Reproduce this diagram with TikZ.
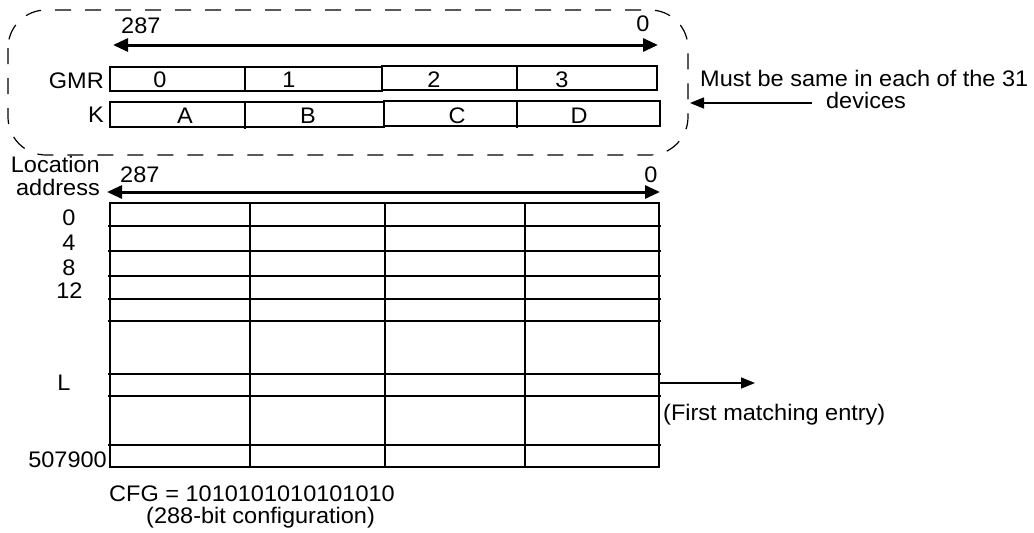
\documentclass[tikz,border=0pt]{standalone}
\usepackage{fontspec}
\setmainfont{Liberation Sans}
\usetikzlibrary{arrows.meta}
\newcommand{\tx}[1]{\scalebox{1.045}[1]{#1}}
\begin{document}
\begin{tikzpicture}[x=1pt,y=-1pt,
  lbl/.style={font=\fontsize{22.5}{27}\selectfont, inner sep=0pt},
  bigarrow/.style={line width=3pt, {Triangle[length=15pt,width=13pt]}-{Triangle[length=15pt,width=13pt]}},
  smallarrow/.style={line width=1.5pt, -{Triangle[length=14pt,width=11pt]}},
  gridline/.style={line width=2.8pt},
  innerline/.style={line width=2pt},
  boxline/.style={line width=1.8pt},
  dashbox/.style={line width=1.2pt, dash pattern=on 16pt off 14pt, rounded corners=38pt}]
\useasboundingbox (0,0) rectangle (1034,533);

% dashed group
\draw[dashbox] (8,10) rectangle (688,155);

% top range arrow
\coordinate (t1l) at (113,45);
\coordinate (t1r) at (658,45);
\draw[bigarrow] (t1l) -- (t1r);
\node[lbl, anchor=base west] (t287) at (121,33) {\tx{287}};
\node[lbl, anchor=base] (t0) at (643,31) {\tx{0}};

% GMR row
\draw[boxline] (110,67) rectangle (382,91);
\draw[boxline] (382,66) rectangle (657,90);
\draw[boxline] (245,67) -- (245,91);
\draw[boxline] (517,66) -- (517,90);
\node[lbl, anchor=base east] (gmr) at (104,88) {\tx{GMR}};
\node[lbl, anchor=base] (g0) at (160,87) {\tx{0}};
\node[lbl, anchor=base] (g1) at (289,87) {\tx{1}};
\node[lbl, anchor=base] (g2) at (434,87) {\tx{2}};
\node[lbl, anchor=base] (g3) at (562,87) {\tx{3}};

% K row
\draw[boxline] (110,102) rectangle (384,127);
\draw[boxline] (384,101) rectangle (660,126);
\draw[boxline] (245,102) -- (245,129);
\draw[boxline] (517,101) -- (517,128);
\node[lbl, anchor=base east] (k) at (104,122) {\tx{K}};
\node[lbl, anchor=base] (ka) at (185,123) {\tx{A}};
\node[lbl, anchor=base] (kb) at (308,123) {\tx{B}};
\node[lbl, anchor=base] (kc) at (457,123) {\tx{C}};
\node[lbl, anchor=base] (kd) at (579,123) {\tx{D}};

% annotation on the right
\node[lbl, anchor=base west] (must) at (700,86) {\tx{Must be same in each of the 31}};
\node[lbl, anchor=base] (dev) at (866,108) {\tx{devices}};
\coordinate (mtail) at (812,103);
\coordinate (mhead) at (690,103);
\draw[smallarrow] (mtail) -- (mhead);

% location address
\node[lbl, anchor=base east] (loc) at (100,172) {\tx{Location}};
\node[lbl, anchor=base east] (addr) at (100,195) {\tx{address}};
\node[lbl, anchor=base west] (b287) at (120,182) {\tx{287}};
\node[lbl, anchor=base] (b0) at (651,182) {\tx{0}};
\coordinate (t2l) at (107,192);
\coordinate (t2r) at (660,192);
\draw[bigarrow] (t2l) -- (t2r);

% table
\foreach \yy in {226,251,276,299,321,374,396,445}
  \draw[gridline] (108,\yy) -- (661,\yy);
\draw[gridline] (110,203) rectangle (659,467);
\draw[gridline] (385,203) -- (385,467);
\draw[innerline] (250,203) -- (250,467);
\draw[innerline] (525,203) -- (525,467);

\node[lbl, anchor=base] (r0) at (69,225) {\tx{0}};
\node[lbl, anchor=base] (r4) at (69,250) {\tx{4}};
\node[lbl, anchor=base] (r8) at (69,275) {\tx{8}};
\node[lbl, anchor=base] (r12) at (69.5,298) {\tx{12}};
\node[lbl, anchor=base] (rl) at (64,390) {\tx{L}};
\node[lbl, anchor=base east] (rlast) at (107,467) {\tx{507900}};

% first matching entry
\coordinate (ltail) at (659,383);
\coordinate (lhead) at (755,383);
\draw[smallarrow] (ltail) -- (lhead);
\node[lbl, anchor=base west] (first) at (663,420) {\tx{(First matching entry)}};

% configuration
\node[lbl, anchor=base west] (cfg) at (109,501) {\tx{CFG = 1010101010101010}};
\node[lbl, anchor=base west] (cfgn) at (146,523) {\tx{(288-bit configuration)}};
\end{tikzpicture}
\end{document}
